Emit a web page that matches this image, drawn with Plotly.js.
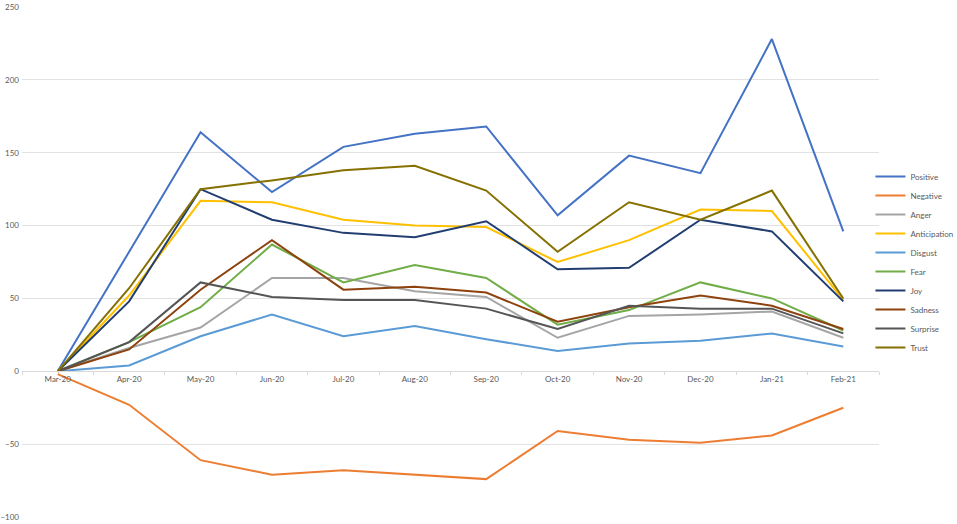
<!DOCTYPE html>
<html>
<head>
<meta charset="utf-8">
<script src="https://cdn.plot.ly/plotly-3.0.1.min.js"></script>
<style>
  html, body { margin: 0; padding: 0; background: #fff; }
  #myChart { width: 957px; height: 524px; }
</style>
</head>
<body>
<div id="myChart"></div>
<script>
// Monthly emotion counts
const months = ['Mar-20', 'Apr-20', 'May-20', 'Jun-20', 'Jul-20', 'Aug-20',
                'Sep-20', 'Oct-20', 'Nov-20', 'Dec-20', 'Jan-21', 'Feb-21'];
const positive     = [0, 82, 164, 123, 154, 163, 168, 107, 148, 136, 228, 96];
const negative     = [-2, -23, -61, -71, -68, -71, -74, -41, -47, -49, -44, -25];
const anger        = [0, 16, 30, 64, 64, 55, 51, 23, 38, 39, 41, 23];
const anticipation = [0, 52, 117, 116, 104, 100, 99, 75, 90, 111, 110, 49];
const disgust      = [0, 4, 24, 39, 24, 31, 22, 14, 19, 21, 26, 17];
const fear         = [0, 20, 44, 87, 61, 73, 64, 32, 42, 61, 50, 28];
const joy          = [0, 48, 125, 104, 95, 92, 103, 70, 71, 104, 96, 48];
const sadness      = [0, 15, 56, 90, 56, 58, 54, 34, 44, 52, 45, 29];
const surprise     = [0, 20, 61, 51, 49, 49, 43, 29, 45, 43, 43, 26];
const trust        = [0, 57, 125, 131, 138, 141, 124, 82, 116, 104, 124, 50];

const seriesNames = ['Positive', 'Negative', 'Anger', 'Anticipation', 'Disgust',
                     'Fear', 'Joy', 'Sadness', 'Surprise', 'Trust'];
const seriesValues = [positive, negative, anger, anticipation, disgust,
                      fear, joy, sadness, surprise, trust];
const seriesColors = ['#4472C4', '#ED7D31', '#A5A5A5', '#FFC000', '#5B9BD5',
                      '#70AD47', '#223E70', '#8E420E', '#555555', '#857000'];

const traces = seriesNames.map((name, i) => ({
    x: months, y: seriesValues[i], name: name,
    type: 'scatter', mode: 'lines',
    line: { color: seriesColors[i], width: 2 }
}));

const tickFont = { family: 'Lato, "Open Sans", sans-serif', size: 8, color: '#595959' };
const zeroPos = 100 / 350; // where y = 0 sits inside the plot area

const layout = {
    width: 957, height: 524,
    margin: { l: 22, r: 78, t: 7, b: 7, autoexpand: false },
    paper_bgcolor: '#fff', plot_bgcolor: '#fff',
    showlegend: true,
    legend: {
        x: 0.99, xanchor: 'left', y: 0.5, yanchor: 'middle',
        font: { family: 'Lato, "Open Sans", sans-serif', size: 8, color: '#595959' },
        bgcolor: 'rgba(0,0,0,0)'
    },
    xaxis: {
        type: 'category', range: [-0.5, 11.5],
        anchor: 'free', position: zeroPos,
        showgrid: false, zeroline: false,
        showline: true, linecolor: '#d9d9d9', linewidth: 1,
        ticks: 'outside', tickson: 'boundaries', ticklen: 3, tickcolor: '#d9d9d9',
        tickfont: tickFont, fixedrange: true
    },
    yaxis: {
        range: [-100, 250], dtick: 50, tick0: 0,
        showgrid: true, gridcolor: '#e2e2e2', gridwidth: 1,
        zeroline: false, showline: false,
        ticks: '', ticklabelstandoff: 2,
        tickfont: tickFont, fixedrange: true
    }
};

Plotly.newPlot('myChart', traces, layout, { displayModeBar: false, staticPlot: true });
</script>
</body>
</html>
